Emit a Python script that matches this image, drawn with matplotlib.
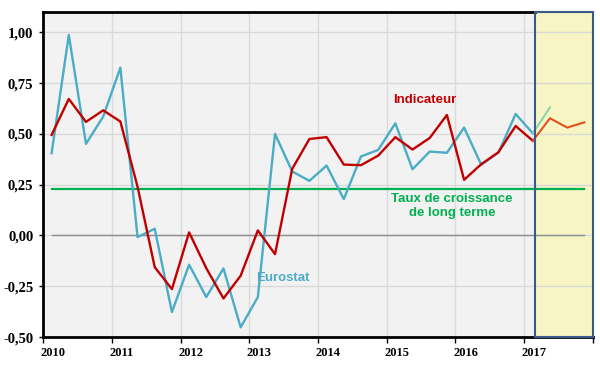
import numpy as np
import matplotlib.pyplot as plt
import matplotlib.transforms as mtransforms
from matplotlib.patches import Rectangle

# quarterly data, 2010T1 .. 2017T1
quarters = np.arange(2010.125, 2017.2, 0.25)
eurostat = [0.405, 0.987, 0.451, 0.585, 0.826, -0.008, 0.033, -0.377,
            -0.144, -0.303, -0.162, -0.452, -0.303, 0.500, 0.315, 0.269,
            0.344, 0.179, 0.389, 0.421, 0.552, 0.326, 0.413, 0.407,
            0.531, 0.348, 0.408, 0.598, 0.503]
indicateur = [0.495, 0.672, 0.559, 0.616, 0.561, 0.240, -0.156, -0.264,
              0.015, -0.161, -0.310, -0.198, 0.025, -0.092, 0.328, 0.475,
              0.484, 0.349, 0.346, 0.393, 0.484, 0.423, 0.480, 0.593,
              0.274, 0.351, 0.410, 0.539, 0.466]

# forecast part (2017T1 .. 2017T4)
prev_q = [2017.125, 2017.375, 2017.625, 2017.875]
prev_ind = [0.466, 0.577, 0.531, 0.557]
prev_euro_q = [2017.125, 2017.375]
prev_euro = [0.503, 0.631]

long_terme = 0.23
span = [2010.125, 2017.875]

years = [2010, 2011, 2012, 2013, 2014, 2015, 2016, 2017]
year_labels = ['2010', '2011', '2012', '2013', '2014', '2015', '2016', '2017']
yticks = [-0.5, -0.25, 0.0, 0.25, 0.5, 0.75, 1.0]
ylabels = ['-0,50', '-0,25', '0,00', '0,25', '0,50', '0,75', '1,00']

split = 2017.16

fig = plt.figure(figsize=(6, 3.7), dpi=100)
ax = fig.add_axes([0.0717, 0.089, 0.9166, 0.8786])
ax.set_xlim(2010, 2018)
ax.set_ylim(-0.5, 1.1)

# backgrounds
ax.axvspan(2010, split, color='#F2F2F2', zorder=0, lw=0)
ax.add_patch(Rectangle((split, -0.5), 2018 - split, 1.6, facecolor='#F6F5C3',
                       lw=0, zorder=0.5))
ax.add_patch(Rectangle((split, -0.5), 2018 - split, 1.6, fill=False,
                       edgecolor='#3A5A8C', lw=1.5, zorder=7, clip_on=False))

# grid
for y in yticks:
    ax.axhline(y, color='#D9D9D9', lw=1, zorder=1)
for x in years[1:]:
    ax.axvline(x, color='#D9D9D9', lw=1, zorder=1)

ax.plot(span, [0, 0], color='#8C8C8C', lw=1, zorder=2)
ax.plot(span, [long_terme, long_terme], color='#00B050', lw=1.6, zorder=3)

ax.plot(quarters, eurostat, color='#4BACC6', lw=1.7, zorder=4)
ax.plot(quarters, indicateur, color='#C00000', lw=1.7, zorder=5)
ax.plot(prev_euro_q, prev_euro, color='#85D3A8', lw=1.4, zorder=4)
ax.plot(prev_q, prev_ind, color='#E2501E', lw=1.5, zorder=5)

# frame
for s in ['top', 'right']:
    ax.spines[s].set_visible(False)
ax.spines['left'].set_linewidth(2)
ax.spines['bottom'].set_linewidth(2)
ax.axhline(1.1, xmin=0, xmax=(split - 2010) / 8, color='black', lw=2, zorder=6,
           clip_on=False)

ax.set_yticks(yticks)
ax.set_yticklabels(ylabels)
ax.set_xticks(years + [2018])
ax.set_xticklabels(year_labels + [''])
ax.tick_params(axis='y', length=3, width=1, direction='out', pad=4)
ax.tick_params(axis='x', length=4, width=1, direction='out', pad=3)
for lab in ax.get_yticklabels():
    lab.set_fontfamily('Liberation Serif')
    lab.set_fontweight('bold')
    lab.set_fontsize(10.5)
for lab in ax.get_xticklabels():
    lab.set_fontfamily('Liberation Serif')
    lab.set_fontweight('bold')
    lab.set_fontsize(9)
offset = mtransforms.ScaledTranslation(10 / 100, 0, fig.dpi_scale_trans)
for lab in ax.get_xticklabels():
    lab.set_transform(lab.get_transform() + offset)

ax.text(2015.55, 0.665, 'Indicateur', color='#C00000', fontsize=9.5,
        fontweight='bold', family='Liberation Sans', ha='center', va='center')
ax.text(2013.1, -0.21, 'Eurostat', color='#4BACC6', fontsize=9.5,
        fontweight='bold', family='Liberation Sans', ha='left', va='center')
ax.text(2015.95, 0.145, 'Taux de croissance\nde long terme', color='#00B050',
        fontsize=9.5, fontweight='bold', family='Liberation Sans',
        ha='center', va='center', linespacing=1.15)

fig.savefig('out.png', dpi=100)
